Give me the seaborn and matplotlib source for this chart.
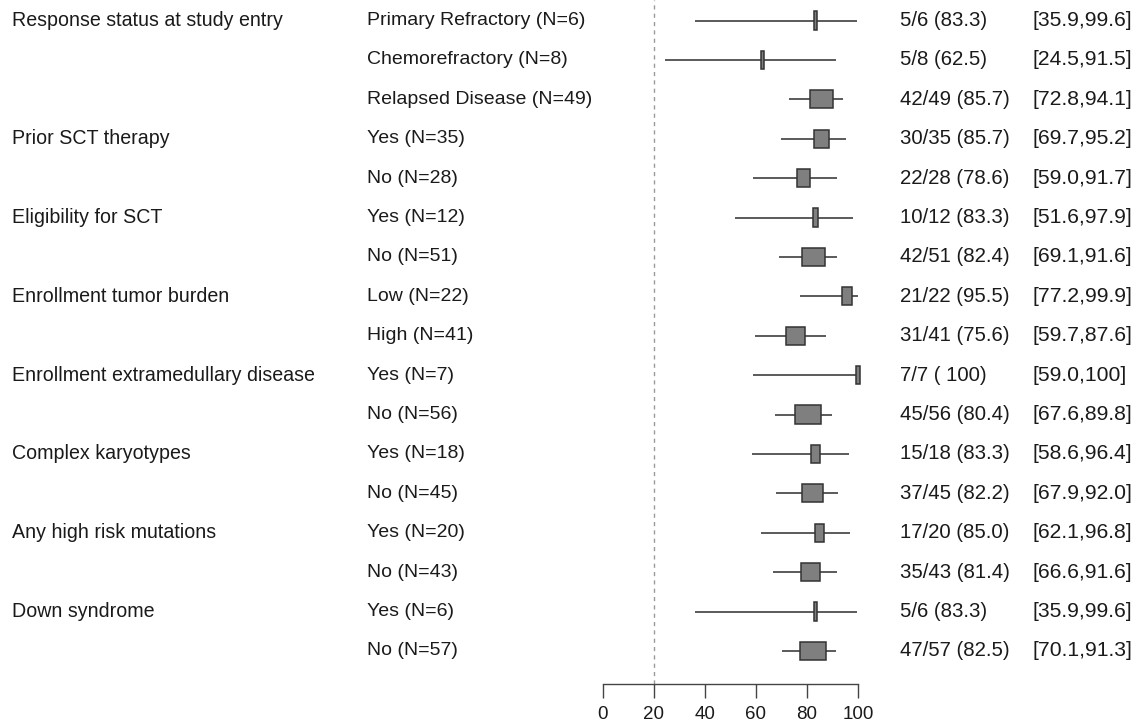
import matplotlib
matplotlib.use("Agg")
import matplotlib.pyplot as plt
import matplotlib.transforms as mtransforms
from matplotlib.patches import Rectangle
import seaborn as sns

# ---- data ----
groups = ["Response status at study entry", "", "", "Prior SCT therapy", "",
          "Eligibility for SCT", "", "Enrollment tumor burden", "",
          "Enrollment extramedullary disease", "", "Complex karyotypes", "",
          "Any high risk mutations", "", "Down syndrome", ""]
subgroups = ["Primary Refractory (N=6)", "Chemorefractory (N=8)", "Relapsed Disease (N=49)",
             "Yes (N=35)", "No (N=28)", "Yes (N=12)", "No (N=51)", "Low (N=22)",
             "High (N=41)", "Yes (N=7)", "No (N=56)", "Yes (N=18)", "No (N=45)",
             "Yes (N=20)", "No (N=43)", "Yes (N=6)", "No (N=57)"]
n_total = [6, 8, 49, 35, 28, 12, 51, 22, 41, 7, 56, 18, 45, 20, 43, 6, 57]
estimate = [83.3, 62.5, 85.7, 85.7, 78.6, 83.3, 82.4, 95.5, 75.6, 100.0,
            80.4, 83.3, 82.2, 85.0, 81.4, 83.3, 82.5]
ci_low = [35.9, 24.5, 72.8, 69.7, 59.0, 51.6, 69.1, 77.2, 59.7, 59.0,
          67.6, 58.6, 67.9, 62.1, 66.6, 35.9, 70.1]
ci_high = [99.6, 91.5, 94.1, 95.2, 91.7, 97.9, 91.6, 99.9, 87.6, 100.0,
           89.8, 96.4, 92.0, 96.8, 91.6, 99.6, 91.3]
count_labels = ["5/6 (83.3)", "5/8 (62.5)", "42/49 (85.7)", "30/35 (85.7)",
                "22/28 (78.6)", "10/12 (83.3)", "42/51 (82.4)", "21/22 (95.5)",
                "31/41 (75.6)", "7/7 ( 100)", "45/56 (80.4)", "15/18 (83.3)",
                "37/45 (82.2)", "17/20 (85.0)", "35/43 (81.4)", "5/6 (83.3)",
                "47/57 (82.5)"]
ci_labels = ["[35.9,99.6]", "[24.5,91.5]", "[72.8,94.1]", "[69.7,95.2]",
             "[59.0,91.7]", "[51.6,97.9]", "[69.1,91.6]", "[77.2,99.9]",
             "[59.7,87.6]", "[59.0,100]", "[67.6,89.8]", "[58.6,96.4]",
             "[67.9,92.0]", "[62.1,96.8]", "[66.6,91.6]", "[35.9,99.6]",
             "[70.1,91.3]"]
x_ticks = [0, 20, 40, 60, 80, 100]
ref_value = 20

# ---- style ----
sns.set_theme(style="white")
plt.rcParams["font.family"] = ["Liberation Sans", "DejaVu Sans"]

W, H = 1137, 721
fig = plt.figure(figsize=(W / 100, H / 100), dpi=100)

x0_px, x1_px = 603, 858
axis_px = 684
row0_px, row_step = 20.5, 39.4
ax = fig.add_axes([x0_px / W, 1 - axis_px / H, (x1_px - x0_px) / W, axis_px / H])
ax.set_xlim(0, 100)
top_y = 1 - row0_px / row_step
bot_y = 1 + (axis_px - row0_px) / row_step
ax.set_ylim(bot_y, top_y)

rows = list(range(1, len(subgroups) + 1))

# reference line
ax.axvline(ref_value, color="#9a9a9a", lw=1.0, ls=(0, (3, 3)), zorder=1)

# CI lines
ax.hlines(rows, ci_low, ci_high, color="#5a5a5a", lw=1.4, zorder=2, clip_on=False)

# boxes (width proportional to N)
w_per_n = 0.178
box_h = 0.46
for y, est, nn in zip(rows, estimate, n_total):
    w = max(w_per_n * nn, 0.8)
    ax.add_patch(Rectangle((est - w / 2, y - box_h / 2), w, box_h,
                           facecolor="#7f7f7f", edgecolor="#333333", lw=1.1,
                           zorder=3, clip_on=False))

# axis styling
sns.despine(ax=ax, left=True, top=True, right=True)
ax.spines["bottom"].set_color("#444444")
ax.spines["bottom"].set_linewidth(1.0)
ax.set_yticks([])
ax.set_xticks(x_ticks)
ax.set_xticklabels([str(t) for t in x_ticks], fontsize=13.5, color="#1a1a1a")
ax.tick_params(axis="x", direction="out", length=10, width=1.0, color="#444444",
               pad=6, bottom=True)
ax.grid(False)
ax.set_facecolor("none")

# text columns
trans = mtransforms.blended_transform_factory(fig.transFigure, ax.transData)
for y, g, s, c, ci in zip(rows, groups, subgroups, count_labels, ci_labels):
    if g:
        ax.text(12 / W, y, g, transform=trans, ha="left", va="center",
                fontsize=14.1, color="#1a1a1a", clip_on=False)
    ax.text(367 / W, y, s, transform=trans, ha="left", va="center",
            fontsize=14.0, color="#1a1a1a", clip_on=False)
    ax.text(900 / W, y, c, transform=trans, ha="left", va="center",
            fontsize=14.7, color="#1a1a1a", clip_on=False)
    ax.text(1033 / W, y, ci, transform=trans, ha="left", va="center",
            fontsize=15.2, color="#1a1a1a", clip_on=False)

fig.savefig("out.png", dpi=100, facecolor="white")
